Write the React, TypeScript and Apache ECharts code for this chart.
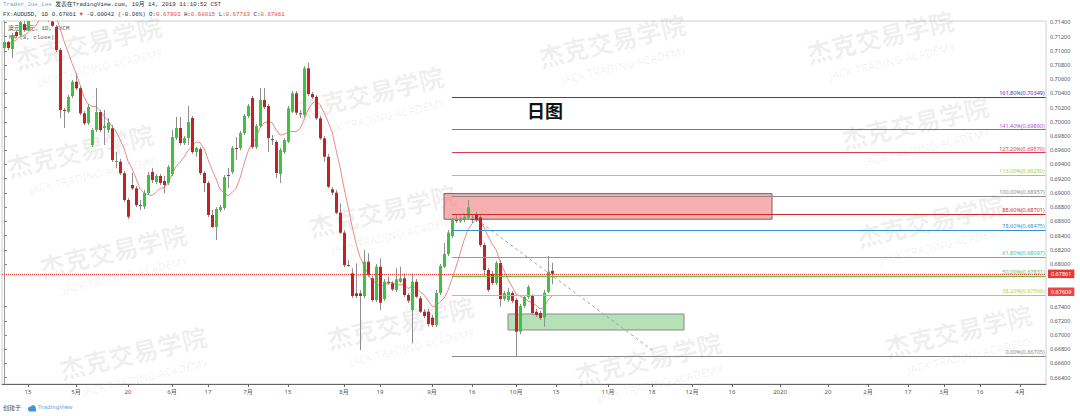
import React, { useEffect, useRef } from "react";
import * as echarts from "echarts";

// ---- Daily AUD/USD candles (index 0 = first bar on the left) ----
const openP = [
  0.71039, 0.71123, 0.71025, 0.71264, 0.71222, 0.71376, 0.71292, 0.71503, 0.71644, 0.71545,
  0.71827, 0.71573, 0.71411, 0.71334, 0.71010, 0.70166, 0.70142, 0.70363, 0.70564, 0.70472,
  0.70120, 0.69983, 0.69674, 0.69885, 0.70138, 0.69913, 0.69885, 0.69909, 0.69439, 0.69439,
  0.69276, 0.68900, 0.69111, 0.69064, 0.68829, 0.68806, 0.68998, 0.69294, 0.69153, 0.69238,
  0.69167, 0.69139, 0.69266, 0.69772, 0.69913, 0.69702, 0.69772, 0.70054, 0.69575, 0.69617,
  0.69280, 0.69139, 0.68689, 0.68520, 0.68759, 0.68787, 0.69252, 0.69294, 0.69632, 0.69632,
  0.69843, 0.70082, 0.70335, 0.69646, 0.69941, 0.70307, 0.70223, 0.69758, 0.69716, 0.69266,
  0.69575, 0.69720, 0.70142, 0.70401, 0.70120, 0.70096, 0.70753, 0.70391, 0.70353, 0.70049,
  0.69768, 0.69509, 0.69050, 0.69003, 0.68721, 0.68440, 0.67985, 0.67868, 0.67587, 0.67587,
  0.67549, 0.68032, 0.67798, 0.67493, 0.67961, 0.67507, 0.67750, 0.67728, 0.67634, 0.67750,
  0.67798, 0.67563, 0.67352, 0.67750, 0.67517, 0.67328, 0.67328, 0.67244, 0.67141, 0.67591,
  0.67961, 0.68140, 0.68393, 0.68618, 0.68600, 0.68618, 0.68656, 0.68633, 0.68703, 0.68656,
  0.68267, 0.67915, 0.67859, 0.67732, 0.68013, 0.67507, 0.67493, 0.67591, 0.67493, 0.67047,
  0.67408, 0.67535, 0.67549, 0.67328, 0.67310, 0.67249, 0.67610, 0.67903,
];
const highP = [
  0.71151, 0.71137, 0.71250, 0.71292, 0.71461, 0.71433, 0.71601, 0.71714, 0.71784, 0.72066,
  0.71883, 0.71644, 0.71461, 0.71362, 0.71038, 0.70194, 0.70377, 0.70588, 0.70687, 0.70504,
  0.70152, 0.70251, 0.69913, 0.70476, 0.70166, 0.70166, 0.70054, 0.69955, 0.69579, 0.69477,
  0.69308, 0.68928, 0.69280, 0.69097, 0.68900, 0.69041, 0.69294, 0.69350, 0.69266, 0.69266,
  0.69238, 0.69392, 0.69885, 0.70068, 0.70068, 0.69800, 0.70223, 0.70082, 0.69650, 0.69646,
  0.69308, 0.69167, 0.68759, 0.68801, 0.68829, 0.69252, 0.69350, 0.69660, 0.69786, 0.69871,
  0.70110, 0.70251, 0.70363, 0.69969, 0.70476, 0.70476, 0.70251, 0.69815, 0.69744, 0.69632,
  0.69772, 0.70223, 0.70434, 0.70434, 0.70166, 0.70785, 0.70832, 0.70419, 0.70377, 0.70082,
  0.69800, 0.69547, 0.69083, 0.69041, 0.68853, 0.68478, 0.68056, 0.67939, 0.68009, 0.67633,
  0.68197, 0.68150, 0.67830, 0.67999, 0.68080, 0.67788, 0.67821, 0.67760, 0.67939, 0.67961,
  0.67868, 0.67591, 0.67868, 0.67788, 0.67549, 0.67366, 0.67366, 0.67282, 0.67634, 0.67999,
  0.68295, 0.68478, 0.68647, 0.68689, 0.68661, 0.68703, 0.68900, 0.68689, 0.68731, 0.68689,
  0.68299, 0.67943, 0.67901, 0.68042, 0.68056, 0.67619, 0.67662, 0.67619, 0.67521, 0.67436,
  0.67563, 0.67704, 0.67577, 0.67366, 0.67338, 0.67634, 0.68112, 0.68015,
];
const lowP = [
  0.71010, 0.71010, 0.70898, 0.71179, 0.71207, 0.71264, 0.71278, 0.71475, 0.71517, 0.71517,
  0.71545, 0.71404, 0.71334, 0.70982, 0.70054, 0.69913, 0.70124, 0.70335, 0.70448, 0.70096,
  0.69955, 0.69955, 0.69646, 0.69857, 0.69857, 0.69674, 0.69843, 0.69435, 0.69346, 0.69252,
  0.68872, 0.68633, 0.69041, 0.68801, 0.68759, 0.68773, 0.68970, 0.69139, 0.69125, 0.69111,
  0.68998, 0.69111, 0.69238, 0.69744, 0.69674, 0.69674, 0.69674, 0.69547, 0.69509, 0.69252,
  0.69012, 0.68661, 0.68506, 0.68337, 0.68731, 0.68759, 0.69069, 0.69266, 0.69463, 0.69603,
  0.69815, 0.70054, 0.69617, 0.69617, 0.69913, 0.70180, 0.69575, 0.69674, 0.69209, 0.69139,
  0.69547, 0.69702, 0.70124, 0.70096, 0.70054, 0.70068, 0.70363, 0.70321, 0.70026, 0.69744,
  0.69439, 0.69069, 0.68970, 0.68703, 0.68421, 0.67957, 0.67961, 0.67521, 0.67521, 0.66789,
  0.67521, 0.67816, 0.67465, 0.67465, 0.67352, 0.67480, 0.67704, 0.67619, 0.67605, 0.67732,
  0.67535, 0.67451, 0.66883, 0.67521, 0.67310, 0.67239, 0.67117, 0.67113, 0.67113, 0.67563,
  0.67943, 0.68112, 0.68365, 0.68576, 0.68576, 0.68590, 0.68633, 0.68576, 0.68590, 0.68239,
  0.67821, 0.67605, 0.67704, 0.67704, 0.67398, 0.67479, 0.67465, 0.67451, 0.66705, 0.67014,
  0.67380, 0.67507, 0.67282, 0.67254, 0.67211, 0.67117, 0.67591, 0.67713,
];
const closeP = [
  0.71123, 0.71039, 0.71222, 0.71207, 0.71404, 0.71292, 0.71503, 0.71644, 0.71545, 0.71827,
  0.71573, 0.71433, 0.71352, 0.71010, 0.70166, 0.70152, 0.70353, 0.70564, 0.70472, 0.70120,
  0.69979, 0.70208, 0.69885, 0.70138, 0.69885, 0.69941, 0.69988, 0.69463, 0.69449, 0.69276,
  0.68900, 0.68665, 0.69064, 0.68829, 0.68822, 0.68998, 0.69252, 0.69181, 0.69238, 0.69139,
  0.69111, 0.69364, 0.69786, 0.69913, 0.69702, 0.69772, 0.69997, 0.69575, 0.69632, 0.69280,
  0.69139, 0.68689, 0.68520, 0.68773, 0.68801, 0.69223, 0.69245, 0.69632, 0.69625, 0.69843,
  0.70082, 0.70223, 0.69646, 0.69941, 0.70307, 0.70208, 0.69772, 0.69751, 0.69280, 0.69603,
  0.69744, 0.70190, 0.70401, 0.70128, 0.70113, 0.70753, 0.70391, 0.70345, 0.70049, 0.69768,
  0.69509, 0.69087, 0.69003, 0.68721, 0.68440, 0.67985, 0.67978, 0.67549, 0.67549, 0.67549,
  0.68032, 0.67845, 0.67493, 0.67961, 0.67455, 0.67750, 0.67746, 0.67643, 0.67784, 0.67798,
  0.67563, 0.67483, 0.67750, 0.67539, 0.67328, 0.67268, 0.67155, 0.67141, 0.67591, 0.67971,
  0.68140, 0.68440, 0.68618, 0.68611, 0.68628, 0.68665, 0.68797, 0.68626, 0.68618, 0.68267,
  0.67915, 0.67634, 0.67732, 0.68013, 0.67507, 0.67591, 0.67605, 0.67479, 0.67047, 0.67408,
  0.67535, 0.67676, 0.67310, 0.67282, 0.67239, 0.67595, 0.67891, 0.67861,
];

// ---- time-axis ticks (bar index -> label) ----
const xTickIndex = [6, 18, 31, 42, 51, 61, 71, 85, 94, 107, 117, 128, 138, 151, 162, 172, 182, 194, 206, 216, 226, 235, 244, 254];
const xTickLabels = ["15", "5月", "20", "6月", "17", "7月", "15", "8月", "19", "9月", "16", "10月", "15", "11月", "18", "12月", "16", "2020", "20", "2月", "17", "3月", "16", "4月"];

// ---- price-axis ticks ----
const yTicks = [
  0.664, 0.666, 0.668, 0.670, 0.672, 0.674, 0.680, 0.682, 0.684, 0.686, 0.688, 0.690,
  0.692, 0.694, 0.696, 0.698, 0.700, 0.702, 0.704, 0.706, 0.708, 0.710, 0.712, 0.714,
];

// ---- Fibonacci drawing ----
const fibLevels = [0, 0.382, 0.5, 0.618, 0.786, 0.886, 1, 1.13, 1.272, 1.414, 1.618];
const fibPrices = [0.66705, 0.67566, 0.67831, 0.68097, 0.68475, 0.68701, 0.68957, 0.6925, 0.6957, 0.6989, 0.70349];
const fibColors = ["#8a8a8a", "#b3d334", "#66bb44", "#3cc4a4", "#3a8fd0", "#cc2b2b", "#8a8a8a", "#a6d23a", "#dd3a55", "#aa4ddd", "#3838b8"];
const fibStartIndex = 112;

// ---- zones, trend line, price labels ----
const supplyZone = { from: 110, to: 192, top: 0.6899, bottom: 0.6863 };
const demandZone = { from: 126, to: 170, top: 0.67296, bottom: 0.67071 };
const trendLine = [[117, 0.68675], [162, 0.66789]];
const lastPrice = 0.67861;
const maLabelPrice = 0.67609;
const maPeriod = 8;

// ---- watermark anchor points ----
const watermarks = [
  [88, 42], [80, 150], [113, 250], [133, 352],
  [370, 92], [382, 210], [400, 322],
  [612, 40], [648, 358],
  [880, 36], [915, 122], [930, 220], [958, 330],
];

const Y_MIN = 0.66311;
const Y_MAX = 0.71419;
const SANS = "'Noto Sans', 'Noto Sans CJK SC', sans-serif";
const MONO = "'Liberation Mono', 'DejaVu Sans Mono', 'Noto Sans CJK SC', monospace";
const UP = "#3cc43c";
const DOWN = "#c81f22";

export default function App() {
  const ref = useRef<HTMLDivElement>(null);

  useEffect(() => {
    const chart = echarts.init(ref.current!, null, { renderer: "svg" });

    const candles = openP.map((o, i) => [i, o, closeP[i], lowP[i], highP[i]]);
    const ma = closeP.map((_, i) => {
      const s = closeP.slice(Math.max(0, i - maPeriod + 1), i + 1);
      return [i, s.reduce((a, b) => a + b, 0) / s.length];
    });
    const tickMap: Record<number, string> = {};
    xTickIndex.forEach((v, k) => (tickMap[v] = xTickLabels[k]));

    const fibLines = fibPrices.map((p, k) => [
      {
        coord: [fibStartIndex, p],
        lineStyle: { color: fibColors[k], width: 1, type: "solid" },
        label: {
          show: true,
          position: "insideEndTop",
          formatter: `${(fibLevels[k] * 100).toFixed(2)}%(${p.toFixed(5)})`,
          color: fibColors[k],
          fontSize: 5.5,
          fontFamily: SANS,
          distance: 1,
        },
      },
      { coord: [260.4, p] },
    ]);

    const wmGraphics = watermarks.map(([x, y]) => ({
      type: "group",
      x,
      y,
      rotation: 0.23,
      z: -10,
      silent: true,
      children: [
        {
          type: "text",
          x: 0,
          y: 0,
          style: {
            text: "杰克交易学院",
            fontSize: 25,
            fontWeight: "bold",
            fontFamily: "'Noto Sans CJK SC', sans-serif",
            fill: "rgba(0,0,0,0.075)",
            align: "center",
            verticalAlign: "middle",
          },
        },
        {
          type: "text",
          x: 6,
          y: 27,
          style: {
            text: "JACK TRADING ACADEMY",
            fontSize: 11,
            fontFamily: SANS,
            fill: "rgba(0,0,0,0.075)",
            align: "center",
            verticalAlign: "middle",
          },
        },
      ],
    }));

    const priceTag = (v: number, bg: string) => ({
      show: true,
      position: "end",
      formatter: v.toFixed(5),
      backgroundColor: bg,
      color: "#fff",
      fontSize: 5.5,
      fontFamily: SANS,
      padding: [2, 3, 1, 3],
      distance: 2,
    });

    const option: any = {
      animation: false,
      backgroundColor: "#ffffff",
      grid: { left: 2, right: 34, top: 21, bottom: 32, show: true, borderColor: "#d0d0d0", borderWidth: 1 },
      xAxis: {
        type: "value",
        min: -0.5,
        max: 260.5,
        axisLine: { show: true, lineStyle: { color: "#666" } },
        axisTick: { show: true, customValues: xTickIndex, length: 3, lineStyle: { color: "#666" } },
        axisLabel: {
          customValues: xTickIndex,
          formatter: (v: number) => tickMap[Math.round(v)] ?? "",
          fontSize: 6,
          color: "#555",
          margin: 5,
          fontFamily: SANS,
        },
        splitLine: { show: false },
      },
      yAxis: {
        type: "value",
        position: "right",
        min: Y_MIN,
        max: Y_MAX,
        axisLine: { show: true, lineStyle: { color: "#9a9a9a" } },
        axisTick: { show: true, customValues: yTicks, length: 3, lineStyle: { color: "#888" } },
        axisLabel: {
          customValues: yTicks,
          formatter: (v: number) => v.toFixed(5),
          fontSize: 5.5,
          color: "#555",
          margin: 4,
          fontFamily: SANS,
        },
        splitLine: { show: false },
      },
      series: [
        {
          type: "line",
          name: "MA",
          data: ma,
          showSymbol: false,
          symbol: "none",
          z: 3,
          lineStyle: { color: "#f08a80", width: 1 },
          markArea: {
            silent: true,
            data: [
              [
                {
                  coord: [supplyZone.from, supplyZone.top],
                  itemStyle: { color: "rgba(242,110,110,0.55)", borderColor: "#7a6262", borderWidth: 1 },
                },
                { coord: [supplyZone.to, supplyZone.bottom] },
              ],
              [
                {
                  coord: [demandZone.from, demandZone.top],
                  itemStyle: { color: "rgba(80,180,80,0.42)", borderColor: "#8a8a8a", borderWidth: 1 },
                },
                { coord: [demandZone.to, demandZone.bottom] },
              ],
            ],
          },
          markLine: {
            silent: true,
            symbol: ["none", "none"],
            precision: 5,
            data: [
              ...fibLines,
              {
                yAxis: lastPrice,
                lineStyle: { color: "#e53935", type: "dotted", width: 1 },
                label: priceTag(lastPrice, "#e53935"),
              },
              {
                yAxis: maLabelPrice,
                lineStyle: { color: "rgba(0,0,0,0)", width: 1 },
                label: priceTag(maLabelPrice, "#ee4444"),
              },
            ],
          },
        },
        {
          type: "line",
          name: "trend",
          data: trendLine,
          showSymbol: false,
          symbol: "none",
          z: 2,
          lineStyle: { color: "#a0a0a0", width: 1, type: [3, 3] },
        },
        {
          type: "custom",
          name: "AUDUSD",
          clip: true,
          z: 4,
          data: candles,
          encode: { x: 0, y: [1, 2, 3, 4] },
          renderItem: (_params: any, api: any) => {
            const i = api.value(0);
            const o = api.value(1);
            const c = api.value(2);
            const l = api.value(3);
            const h = api.value(4);
            const pO = api.coord([i, o]);
            const pC = api.coord([i, c]);
            const pL = api.coord([i, l]);
            const pH = api.coord([i, h]);
            const cx = Math.round(pO[0]);
            const top = Math.min(pO[1], pC[1]);
            const bh = Math.max(1, Math.abs(pO[1] - pC[1]));
            return {
              type: "group",
              children: [
                {
                  type: "line",
                  shape: { x1: cx + 0.5, y1: pH[1], x2: cx + 0.5, y2: pL[1] },
                  style: { stroke: "#8e8e8e", lineWidth: 1 },
                },
                {
                  type: "rect",
                  shape: { x: cx - 1, y: top, width: 3, height: bh },
                  style: { fill: c >= o ? UP : DOWN },
                },
              ],
            };
          },
        },
      ],
      graphic: [
        ...wmGraphics,
        {
          type: "text",
          x: 3,
          y: 2,
          z: 20,
          style: {
            text: "{u|Trader_Jue_Lee} 发表在TradingView.com, 10月 14, 2019 11:10:52 CST",
            rich: { u: { fill: "#6a9fd8", fontSize: 5.8, fontFamily: MONO } },
            fill: "#333",
            fontSize: 5.8,
            fontFamily: MONO,
          },
        },
        {
          type: "text",
          x: 3,
          y: 12,
          z: 20,
          style: {
            text:
              "FX:AUDUSD, 1D 0.67861 {r|▼} -0.00042 (-0.06%) O:{r|0.67903} H:{r|0.68015} L:{r|0.67713} C:{r|0.67861}",
            rich: { r: { fill: "#e04848", fontSize: 5.8, fontFamily: MONO } },
            fill: "#333",
            fontSize: 5.8,
            fontFamily: MONO,
          },
        },
        {
          type: "text",
          x: 8,
          y: 26,
          z: 1,
          style: { text: "澳元/美元, 1D, FXCM", fill: "#555", fontSize: 5.8, fontFamily: MONO },
        },
        {
          type: "text",
          x: 9,
          y: 35,
          z: 1,
          style: { text: "MA (8, close)", fill: "#555", fontSize: 5.8, fontFamily: MONO },
        },
        {
          type: "text",
          x: 545,
          y: 110,
          z: 20,
          style: {
            text: "日图",
            fontSize: 18,
            fontWeight: "bold",
            fontFamily: "'Noto Sans CJK SC', sans-serif",
            fill: "#111",
            align: "center",
            verticalAlign: "middle",
          },
        },
        {
          type: "text",
          x: 3,
          y: 404,
          z: 20,
          style: { text: "创建于", fill: "#444", fontSize: 6, fontFamily: "'Noto Sans CJK SC', sans-serif" },
        },
        {
          type: "group",
          x: 27,
          y: 405,
          z: 20,
          children: [
            { type: "circle", shape: { cx: 3, cy: 4, r: 2.2 }, style: { fill: "#4a90d9" } },
            { type: "circle", shape: { cx: 6, cy: 3, r: 2.8 }, style: { fill: "#4a90d9" } },
            { type: "rect", shape: { x: 2, y: 4, width: 7, height: 2.5 }, style: { fill: "#4a90d9" } },
          ],
        },
        {
          type: "text",
          x: 38,
          y: 404,
          z: 20,
          style: { text: "TradingView", fill: "#6aa6e0", fontSize: 6, fontFamily: SANS },
        },
      ],
    };

    chart.setOption(option);
    return () => chart.dispose();
  }, []);

  return <div ref={ref} style={{ position: "fixed", left: 0, top: 0, width: 1080, height: 416 }} />;
}
